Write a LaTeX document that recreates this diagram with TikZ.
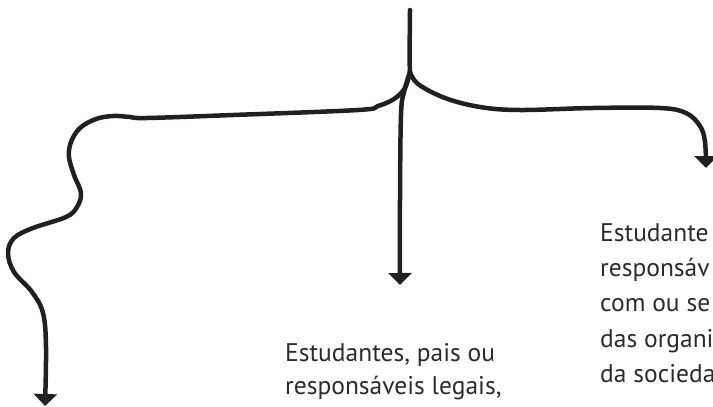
\documentclass[tikz,border=0pt]{standalone}
\usepackage{fontspec}
\setmainfont{PT Sans}
\usetikzlibrary{arrows.meta}
\definecolor{ink}{HTML}{231F20}
\definecolor{txt}{HTML}{2B2B2B}
\tikzset{
  branch/.style={draw=ink, line width=4.5pt, line cap=round, line join=round,
    -{Triangle[width=23pt,length=12pt]}},
  stem/.style={draw=ink, line width=4.5pt, line cap=round},
  label/.style={anchor=base west, inner sep=0pt, text=txt, font=\fontsize{25.5}{30}\selectfont}
}
\begin{document}
\begin{tikzpicture}[x=1pt,y=-1pt]
\useasboundingbox (0,0) rectangle (713,407);
\clip (0,0) rectangle (713,407);
\coordinate (top) at (410,10);
\coordinate (jn) at (410,72);
\coordinate (tipL) at (45,406);
\coordinate (tipM) at (400,285);
\coordinate (tipR) at (706,168);
% stem
\draw[stem] (top) .. controls (410,35) and (409,55) .. (jn);
% middle
\draw[branch] plot[smooth, tension=0.6] coordinates {(jn) (404,92) (401,115) (400,200) (tipM)};
% right
\draw[branch] plot[smooth, tension=0.6] coordinates {(jn) (418,84) (445,98) (480,107) (520,110) (593,108) (660,108) (686,113) (700,126) (705,142) (tipR)};
% left
\draw[branch] plot[smooth, tension=0.6] coordinates {(jn) (405,88) (394,99) (378,106) (358,110) (233,115) (147,118) (130,117) (113,116) (96,119) (80,128) (71,142) (69,157) (74,175) (81,193) (77,207) (66,217) (33,228) (14,238) (8,253) (14,272) (32,292) (43,313) (46,347) (tipL)};
% texts
\node[label] (m1) at (285,361) {Estudantes, pais ou};
\node[label] (m2) at (285,394) {responsáveis legais,};
\node[label] (r1) at (600,241) {Estudante};
\node[label] (r2) at (600,276) {responsáv};
\node[label] (r3) at (600,311) {com ou se};
\node[label] (r4) at (600,347) {das organi};
\node[label] (r5) at (600,382) {da socieda};
\end{tikzpicture}
\end{document}
